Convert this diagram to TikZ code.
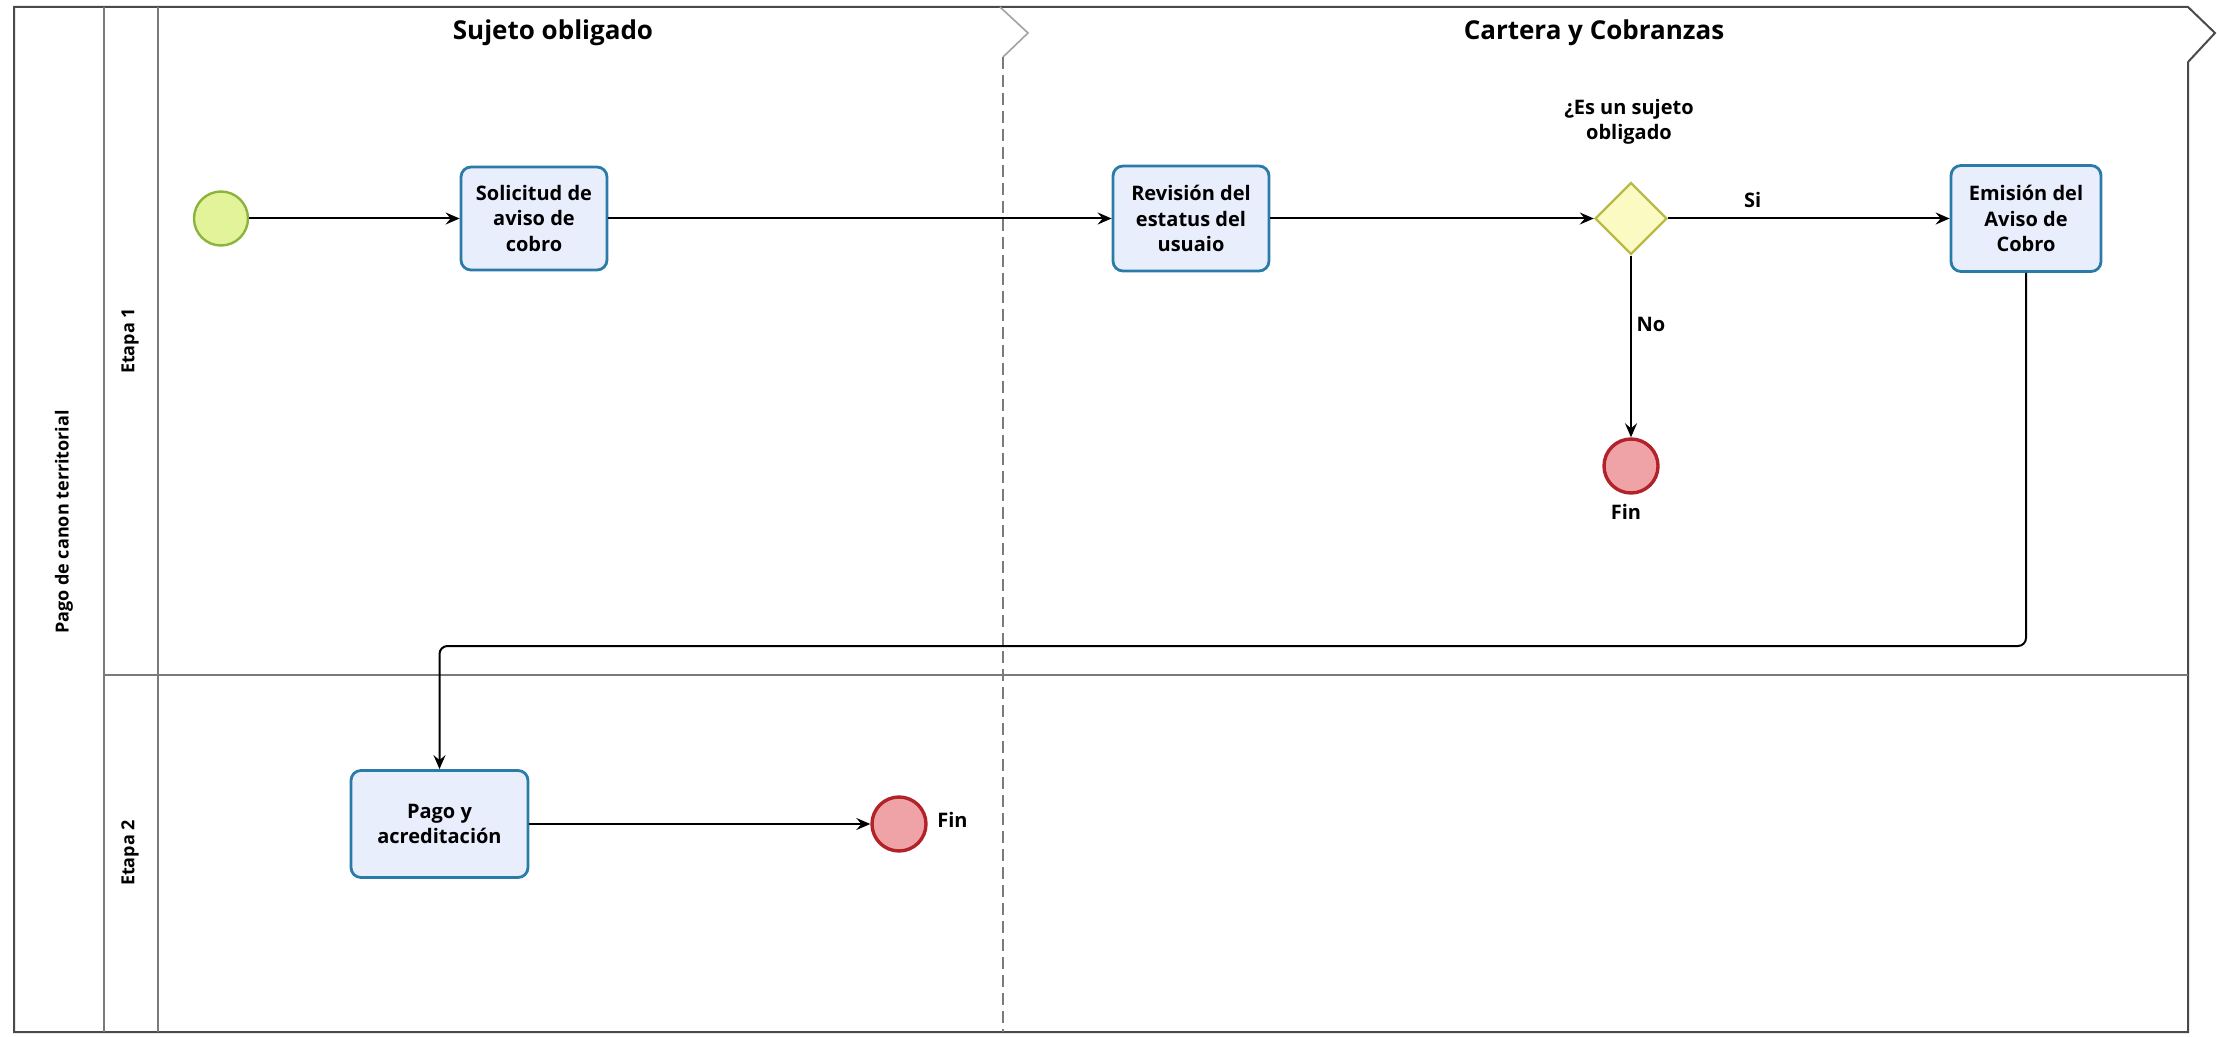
\documentclass[tikz,border=0pt]{standalone}
\usepackage{fontspec}
\setmainfont{Open Sans}
\usetikzlibrary{arrows.meta,shapes.geometric}
\definecolor{taskfill}{HTML}{E8EEFB}
\definecolor{taskdraw}{HTML}{2B7BA9}
\definecolor{startfill}{HTML}{E3F39A}
\definecolor{startdraw}{HTML}{8CB43C}
\definecolor{gwfill}{HTML}{FAFAC2}
\definecolor{gwdraw}{HTML}{B8BA45}
\definecolor{endfill}{HTML}{EFA3A6}
\definecolor{enddraw}{HTML}{B2222A}
\definecolor{framecol}{HTML}{4A4A4A}
\definecolor{lanecol}{HTML}{7A7A7A}
\begin{document}
\begin{tikzpicture}[x=0.5pt,y=-0.5pt,
  txt/.style={font=\fontsize{10}{12.75}\selectfont\bfseries, align=center, inner sep=0pt},
  task/.style={txt, draw=taskdraw, fill=taskfill, line width=1.4pt, rounded corners=5pt},
  startev/.style={circle, draw=startdraw, fill=startfill, line width=1.2pt, minimum size=27pt, inner sep=0pt},
  endev/.style={circle, draw=enddraw, fill=endfill, line width=1.7pt, minimum size=27pt, inner sep=0pt},
  gateway/.style={diamond, draw=gwdraw, fill=gwfill, line width=1.2pt, minimum width=36pt, minimum height=36pt, inner sep=0pt},
  hdr/.style={font=\fontsize{13}{15}\selectfont\bfseries, inner sep=0pt},
  lanelbl/.style={font=\fontsize{9}{11}\selectfont\bfseries, rotate=90, inner sep=0pt},
  flow/.style={draw=black, line width=1pt, -{Stealth[length=7pt, width=6pt, inset=2.5pt]}},
  frameline/.style={draw=framecol, line width=1pt},
  laneline/.style={draw=lanecol, line width=0.9pt}
]
\useasboundingbox (0,0) rectangle (2217,1037);

% pool frame
\draw[frameline] (2188,62) -- (2188,1032) -- (14,1032) -- (14,7) -- (2188,7) -- (2215,33) -- (2188,62);
\draw[laneline] (104,7) -- (104,1032);
\draw[laneline] (158,7) -- (158,1032);
\draw[laneline] (104,675) -- (2188,675);
\draw[draw=lanecol!70, line width=0.8pt] (1000,7) -- (1028,33) -- (1003,57);
\draw[draw=lanecol, line width=0.8pt, dash pattern=on 6pt off 3pt] (1003,57) -- (1003,1032);

% labels of pool / lanes / headers
\node[lanelbl] (pool) at (64,522) {Pago de canon territorial};
\node[lanelbl] (lane1) at (130,341) {Etapa 1};
\node[lanelbl] (lane2) at (130,853) {Etapa 2};
\node[hdr] (h1) at (553,33) {Sujeto obligado};
\node[hdr] (h2) at (1594,33) {Cartera y Cobranzas};

% nodes
\node[startev] (start) at (221,218.5) {};
\node[task, minimum width=73pt, minimum height=51.5pt] (sol) at (534,218.5) {Solicitud de\\aviso de\\cobro};
\node[task, minimum width=78pt, minimum height=52.5pt] (rev) at (1191,218.5) {Revisión del\\estatus del\\usuaio};
\node[gateway] (gw) at (1631,218.5) {};
\node[txt] (q) at (1629,122) {¿Es un sujeto\\obligado};
\node[task, minimum width=75pt, minimum height=53pt] (emi) at (2026,218.5) {Emisión del\\Aviso de\\Cobro};
\node[endev] (end1) at (1631,466) {};
\node[txt] (fin1) at (1626,512) {Fin};
\node[task, minimum width=88.5pt, minimum height=53.5pt] (pago) at (439.5,824) {Pago y\\acreditación};
\node[endev] (end2) at (899,824) {};
\node[txt, anchor=west] (fin2) at (937,820) {Fin};

% connectors
\coordinate (turn) at (0,646);
\draw[flow] (start) -- (sol);
\draw[flow] (sol) -- (rev);
\draw[flow] (rev) -- (gw);
\draw[flow] (gw) -- node[txt, pos=0.3, yshift=9pt] (si) {Si} (emi);
\draw[flow] (gw) -- node[txt, pos=0.38, xshift=10pt] (no) {No} (end1);
\draw[flow, rounded corners=4pt] (emi.south) -- (emi.south |- turn) -- (pago.north |- turn) -- (pago.north);
\draw[flow] (pago) -- (end2);
\end{tikzpicture}
\end{document}
